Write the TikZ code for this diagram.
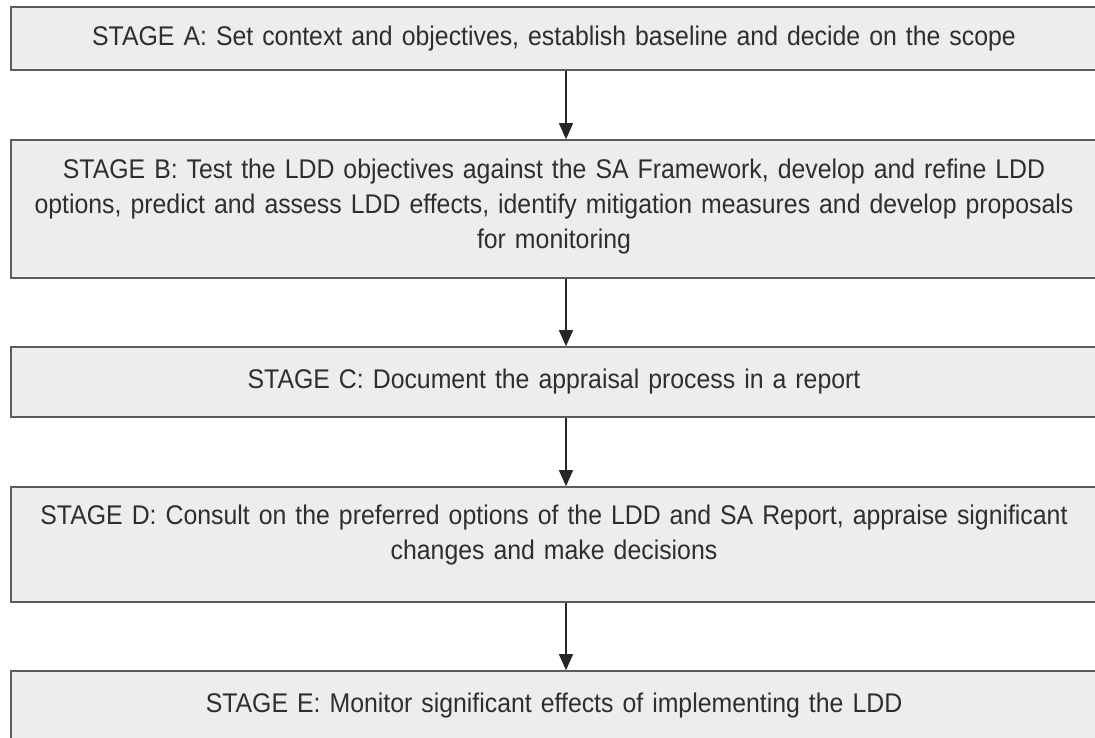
\documentclass[tikz,border=0pt]{standalone}
\usepackage{fontspec}
\setmainfont[FakeStretch=0.92]{Liberation Sans}
\usetikzlibrary{arrows.meta}
\definecolor{boxfill}{HTML}{EDEDED}
\definecolor{boxline}{HTML}{5C5C5C}
\definecolor{inkgray}{HTML}{2E2E2E}

\begin{document}
\begin{tikzpicture}[x=1pt,y=-1pt,
  stagebox/.style={draw=boxline,line width=1.6pt,fill=boxfill,text=inkgray,
    minimum width=1086pt,text width=1080pt,align=center,inner sep=0pt,
    font=\fontsize{27}{35}\selectfont},
  flowarrow/.style={-{Triangle[length=16pt,width=14pt]},line width=1.2pt,draw=black!85}]
  \useasboundingbox (0,0) rectangle (1095,737);
  \clip (0,0) rectangle (1095,737);
  \node[stagebox,minimum height=63pt] (a) at (554,38.5)
    {STAGE A: Set context and objectives, establish baseline and decide on the scope};
  \node[stagebox,minimum height=138pt,text depth=80pt] (b) at (554,209)
    {STAGE B: Test the LDD objectives against the SA Framework, develop and refine LDD\\
     options, predict and assess LDD effects, identify mitigation measures and develop proposals\\
     for monitoring};
  \node[stagebox,minimum height=70pt] (c) at (554,382)
    {STAGE C: Document the appraisal process in a report};
  \node[stagebox,minimum height=115pt,text depth=60pt] (d) at (554,544.5)
    {STAGE D: Consult on the preferred options of the LDD and SA Report, appraise significant\\
     changes and make decisions};
  \node[stagebox,minimum height=70pt] (e) at (554,706)
    {STAGE E: Monitor significant effects of implementing the LDD};

  % stage to stage
  \foreach \from/\to in {a/b,b/c,c/d,d/e}
    \draw[flowarrow] ([xshift=12pt]\from.south) -- ([xshift=12pt]\to.north);
\end{tikzpicture}
\end{document}
